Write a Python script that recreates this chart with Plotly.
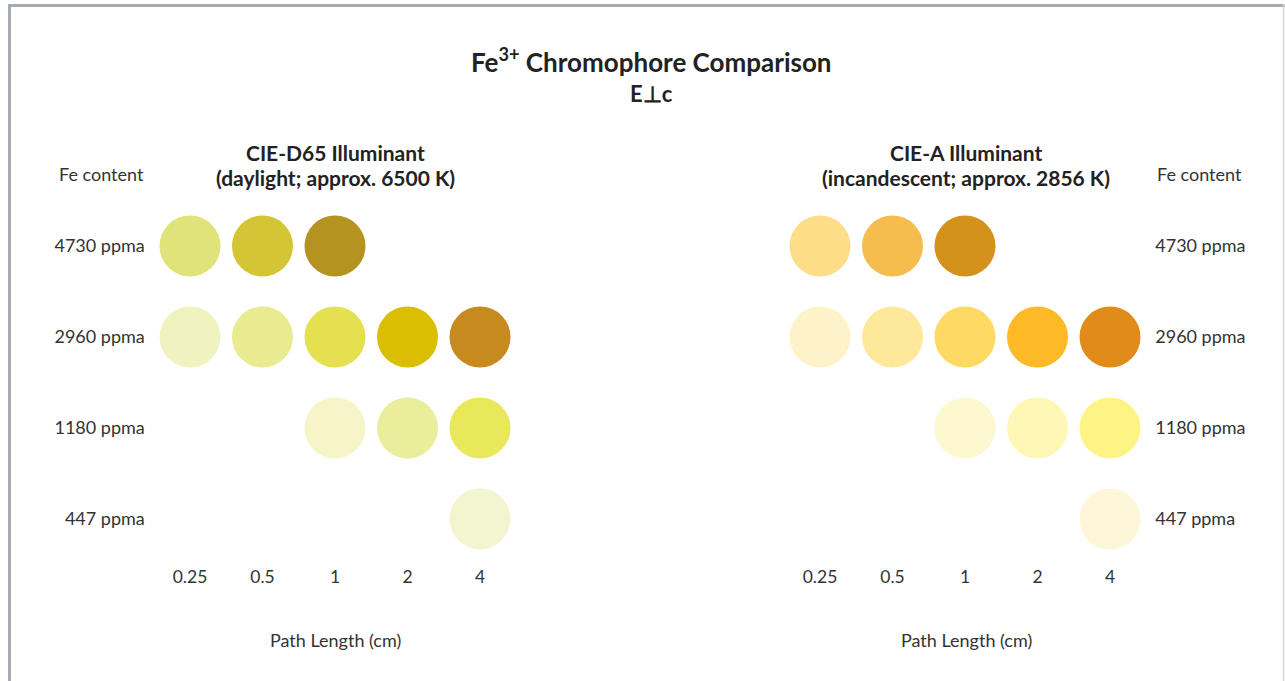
import plotly.graph_objects as go

path_lengths = ["0.25", "0.5", "1", "2", "4"]
fe_content = ["4730 ppma", "2960 ppma", "1180 ppma", "447 ppma"]

# rows = Fe content, columns = path length; None = no sample
d65_colors = [
    ["#E0E27A", "#D3C535", "#B59321", None, None],
    ["#F0F3C0", "#E8EB90", "#E5E050", "#DBBE02", "#C78A1E"],
    [None, None, "#F6F5C8", "#EAEE9C", "#E8E85A"],
    [None, None, None, None, "#F2F5D0"],
]
a_colors = [
    ["#FEDD88", "#F6BD4E", "#D4921D", None, None],
    ["#FEF3C8", "#FEE899", "#FEDA65", "#FDBA25", "#E18C1A"],
    [None, None, "#FEF8D0", "#FEF7B5", "#FEF485"],
    [None, None, None, None, "#FEF6D8"],
]

W, H = 1285, 681
FONT = "Lato"
TXT = "#333333"


def px_x(p):
    return p / W


def px_y(p):
    return 1 - p / H


def dots(colors, xa, ya):
    xs, ys, cs = [], [], []
    for r, row in enumerate(colors):
        for c, col in enumerate(row):
            if col is None:
                continue
            xs.append(c)
            ys.append(r)
            cs.append(col)
    return go.Scatter(x=xs, y=ys, mode="markers", xaxis=xa, yaxis=ya,
                      marker=dict(size=61, color=cs, line_width=0),
                      hoverinfo="skip", showlegend=False)


fig = go.Figure()
fig.add_trace(dots(d65_colors, "x", "y"))
fig.add_trace(dots(a_colors, "x2", "y2"))

ydom = [px_y(564.5), px_y(200.5)]
xcommon = dict(range=[-0.5, 4.5], tickvals=list(range(5)), ticktext=path_lengths,
               showgrid=False, zeroline=False, showline=False, ticks="",
               tickfont=dict(family=FONT, size=17.5, color=TXT),
               ticklabelstandoff=0, fixedrange=True)
ycommon = dict(range=[3.5, -0.5], tickvals=list(range(4)), ticktext=fe_content,
               showgrid=False, zeroline=False, showline=False, ticks="",
               tickfont=dict(family=FONT, size=18, color=TXT),
               ticklabelstandoff=8, domain=ydom, fixedrange=True)

fig.update_layout(
    width=W, height=H,
    margin=dict(l=0, r=0, t=0, b=0),
    paper_bgcolor="white", plot_bgcolor="white",
    xaxis=dict(xcommon, domain=[px_x(153.75), px_x(516.25)], anchor="y"),
    yaxis=dict(ycommon, anchor="x", side="left"),
    xaxis2=dict(xcommon, domain=[px_x(783.75), px_x(1146.25)], anchor="y2"),
    yaxis2=dict(ycommon, anchor="x2", side="right"),
)

# frame
frame = "#A4ABB1"
fig.add_shape(type="line", xref="paper", yref="paper", x0=px_x(8), x1=px_x(1285),
              y0=px_y(5.5), y1=px_y(5.5), line=dict(color=frame, width=3))
fig.add_shape(type="line", xref="paper", yref="paper", x0=px_x(9.5), x1=px_x(9.5),
              y0=px_y(4), y1=0, line=dict(color=frame, width=3))
fig.add_shape(type="line", xref="paper", yref="paper", x0=px_x(1283.5), x1=px_x(1283.5),
              y0=px_y(4), y1=0, line=dict(color="#D5D8DB", width=1.5))


def note(text, x, y, size, bold=False, xanchor="center"):
    if bold:
        text = "<b>" + text + "</b>"
    fig.add_annotation(text=text, x=px_x(x), y=px_y(y), xref="paper", yref="paper",
                       showarrow=False, xanchor=xanchor, yanchor="middle",
                       font=dict(family=FONT, size=size, color="#222222" if bold else TXT))


note("Fe<sup>3+</sup> Chromophore Comparison", 651, 60, 26, bold=True)
note("E⊥c", 651, 94, 22, bold=True)
note("CIE-D65 Illuminant", 335, 153, 21, bold=True)
note("(daylight; approx. 6500 K)", 335, 177, 21, bold=True)
note("CIE-A Illuminant", 966, 153, 21, bold=True)
note("(incandescent; approx. 2856 K)", 966, 177, 21, bold=True)
note("Fe content", 146, 174, 18, xanchor="right")
note("Fe content", 1155, 174, 18, xanchor="left")
note("Path Length (cm)", 335, 640, 18)
note("Path Length (cm)", 966, 640, 18)

fig.write_html("out.html", config={"displayModeBar": False},
               post_script="document.body.style.margin='0px';")
